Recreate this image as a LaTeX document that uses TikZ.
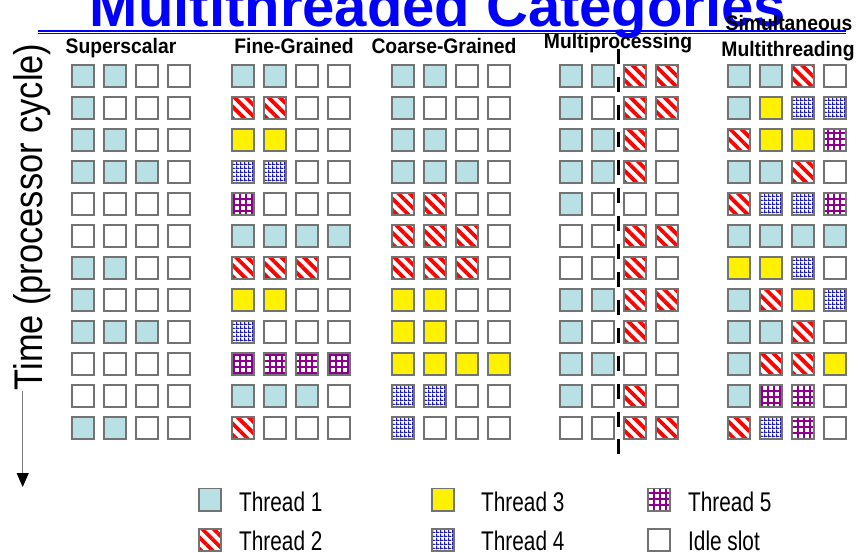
\documentclass[tikz,border=0pt]{standalone}
\usepackage{fontspec}
\setmainfont{Liberation Sans}
\newfontfamily\labelfont[FakeStretch=0.92]{Liberation Sans}
\newfontfamily\legendfont[FakeStretch=0.77]{Liberation Sans}
\newfontfamily\axisfont[FakeStretch=0.86]{Liberation Sans}
\usetikzlibrary{positioning,arrows.meta,patterns,patterns.meta}

\definecolor{threadone}{RGB}{185,224,228}
\definecolor{threadfour}{RGB}{30,30,165}
\definecolor{threadfive}{RGB}{140,0,140}
\definecolor{slotgray}{RGB}{115,115,115}

% white dots on blue
\pgfdeclarepatternformonly{checker}{\pgfpointorigin}{\pgfqpoint{4pt}{4pt}}{\pgfqpoint{4pt}{4pt}}{%
  \pgfpathrectangle{\pgfpointorigin}{\pgfqpoint{4pt}{1.5pt}}%
  \pgfpathrectangle{\pgfqpoint{0pt}{1.5pt}}{\pgfqpoint{1.5pt}{2.5pt}}%
  \pgfusepath{fill}}

% one column of issue slots: name, left x, rows
\newcommand{\slotcolumn}[3]{%
  \foreach \row [count=\r] in {#3} {
    \foreach \k [count=\c] in \row {
      \node[slot, th\k] (#1-\r-\c) at ({#2+(\c-1)*32+12},{64+(\r-1)*32+12}) {};
    }
  }%
}

\begin{document}
\begin{tikzpicture}[
    x=1pt, y=-1pt,
    slot/.style={draw=slotgray, line width=1.6pt, minimum size=22.4pt, inner sep=0pt},
    th0/.style={},
    th1/.style={fill=threadone},
    th2/.style={pattern={Lines[angle=-45,distance=8pt,line width=3.8pt]}, pattern color=red},
    th3/.style={fill=yellow},
    th4/.style={pattern=checker, pattern color=threadfour},
    th5/.style={pattern={Hatch[distance=6pt,line width=1.6pt]}, pattern color=threadfive},
    titletext/.style={font=\bfseries\fontsize{58pt}{60pt}\selectfont, text=blue, inner sep=0pt, anchor=base},
    gridlabel/.style={font=\labelfont\bfseries\fontsize{21pt}{24pt}\selectfont, inner sep=0pt, anchor=base},
    axislabel/.style={font=\axisfont\fontsize{40pt}{44pt}\selectfont, inner sep=0pt, rotate=90, anchor=base},
    legendtext/.style={font=\legendfont\fontsize{27pt}{30pt}\selectfont, inner sep=0pt},
    divider/.style={line width=3pt, dash pattern=on 15pt off 12.9pt},
    timeline/.style={draw=gray, line width=1pt, -{Triangle[width=12pt,length=14pt,color=black]}}
]

% Background
\fill[white] (0,0) rectangle (859,553);
\useasboundingbox (0,0) rectangle (859,553);

% Title
\draw[blue, line width=1.6pt] (38,31) -- (846,31);
\draw[blue, line width=1pt] (38,34) -- (846,34);
\node[titletext] (title) at (438,27) {Multithreaded Categories};

% Column headings
\node[gridlabel] (lab-ss) at (121,54) {Superscalar};
\node[gridlabel] (lab-fg) at (294,54) {Fine-Grained};
\node[gridlabel] (lab-cg) at (444,54) {Coarse-Grained};
\node[gridlabel] (lab-mp) at (618,49) {Multiprocessing};
\node[gridlabel] (lab-smt1) at (789,31) {Simultaneous};
\node[gridlabel] (lab-smt2) at (788,57) {Multithreading};

% Superscalar
\slotcolumn{ss}{71}{{1,1,0,0},{1,0,0,0},{1,1,0,0},{1,1,1,0},{0,0,0,0},{0,0,0,0},
  {1,1,0,0},{1,0,0,0},{1,1,1,0},{0,0,0,0},{0,0,0,0},{1,1,0,0}}

% Fine-Grained
\slotcolumn{fg}{231}{{1,1,0,0},{2,2,0,0},{3,3,0,0},{4,4,0,0},{5,0,0,0},{1,1,1,1},
  {2,2,2,0},{3,3,0,0},{4,0,0,0},{5,5,5,5},{1,1,1,0},{2,0,0,0}}

% Coarse-Grained
\slotcolumn{cg}{391}{{1,1,0,0},{1,0,0,0},{1,1,0,0},{1,1,1,0},{2,2,0,0},{2,2,2,0},
  {2,2,2,0},{3,3,0,0},{3,3,0,0},{3,3,3,3},{4,4,0,0},{4,0,0,0}}

% Multiprocessing
\slotcolumn{mp}{559}{{1,1,2,2},{1,0,2,2},{1,1,2,0},{1,1,2,0},{1,0,0,0},{0,0,2,2},
  {0,0,2,0},{1,1,2,2},{1,0,2,0},{1,1,0,0},{1,0,2,0},{0,0,2,2}}
\coordinate (div-top) at (618.5,48.8);
\coordinate (div-bot) at (618.5,455);
\draw[divider] (div-top) -- (div-bot);

% Simultaneous Multithreading
\slotcolumn{smt}{727}{{1,1,2,0},{1,3,4,4},{2,3,3,5},{1,1,2,0},{2,4,4,5},{1,1,1,1},
  {3,3,4,0},{1,2,3,4},{1,1,2,0},{1,2,2,3},{1,5,5,0},{2,4,5,0}}

% Time axis
\node[axislabel] (axis) at (42,217) {Time (processor cycle)};
\coordinate (t-top) at (22.7,391);
\coordinate (t-tip) at (22.7,487);
\draw[timeline] (t-top) -- (t-tip);

% Legend
\node[slot, th1] (leg1) at (210,499.5) {};
\node[slot, th2] (leg2) at (210,540) {};
\node[slot, th3] (leg3) at (443,499.5) {};
\node[slot, th4] (leg4) at (443,540) {};
\node[slot, th5] (leg5) at (659,499.5) {};
\node[slot, th0] (leg6) at (659,540) {};
\node[legendtext, right=17pt of leg1.south east, anchor=base west] {Thread 1};
\node[legendtext, right=17pt of leg2.south east, anchor=base west, yshift=2pt] {Thread 2};
\node[legendtext, right=26pt of leg3.south east, anchor=base west] {Thread 3};
\node[legendtext, right=26pt of leg4.south east, anchor=base west, yshift=2pt] {Thread 4};
\node[legendtext, right=17pt of leg5.south east, anchor=base west] {Thread 5};
\node[legendtext, right=17pt of leg6.south east, anchor=base west, yshift=2pt] {Idle slot};

\end{tikzpicture}
\end{document}
